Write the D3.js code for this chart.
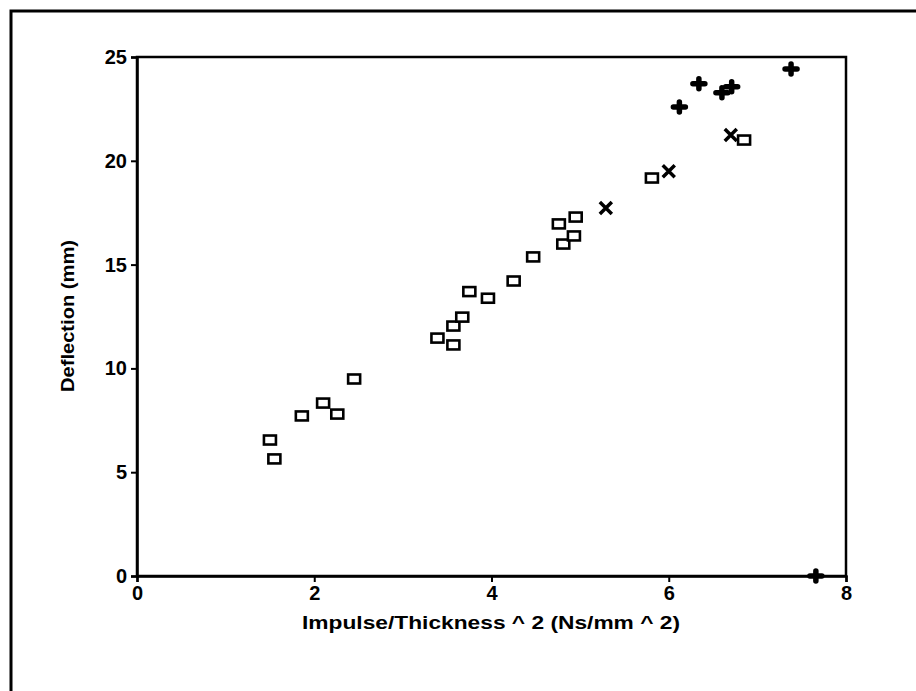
<!DOCTYPE html>
<html>
<head>
<meta charset="utf-8">
<script src="https://cdn.jsdelivr.net/npm/d3@7"></script>
<style>
  body { margin: 0; background: #fff; }
  text { font-family: "Liberation Sans", Arial, sans-serif; font-weight: bold; fill: #000; }
</style>
</head>
<body>
<div id="chart"></div>
<script>
'use strict';

// open squares
var squareX = [1.50, 1.55, 1.86, 2.10, 2.26, 2.45, 3.39, 3.57, 3.57, 3.67, 3.75, 3.96, 4.25, 4.47, 4.76, 4.81, 4.93, 4.95, 5.81, 6.85];
var squareY = [6.55, 5.64, 7.71, 8.33, 7.80, 9.49, 11.46, 11.13, 12.04, 12.47, 13.70, 13.38, 14.21, 15.37, 16.96, 15.99, 16.38, 17.29, 19.17, 21.00];
// crosses (x)
var crossX = [5.29, 6.00, 6.70];
var crossY = [17.73, 19.50, 21.24];
// filled plus
var plusX = [6.12, 6.34, 6.60, 6.71, 7.38, 7.66];
var plusY = [22.59, 23.71, 23.28, 23.57, 24.42, 0.00];

var xTicks = [0, 2, 4, 6, 8];
var yTicks = [0, 5, 10, 15, 20, 25];

var width = 916, height = 691;
var margin = {left: 137, top: 57, right: 70, bottom: 115};

var svg = d3.select('#chart').append('svg')
    .attr('width', width)
    .attr('height', height);

// outer frame (top and left edges only)
svg.append('path')
    .attr('d', 'M11,691 L11,11 L916,11')
    .attr('fill', 'none')
    .attr('stroke', '#000')
    .attr('stroke-width', 3);

var x = d3.scaleLinear().domain([0, 8]).range([margin.left, width - margin.right]);
var y = d3.scaleLinear().domain([0, 25]).range([height - margin.bottom, margin.top]);

var g = svg.append('g');

// plot box
g.append('rect')
    .attr('x', x(0)).attr('y', y(25))
    .attr('width', x(8) - x(0)).attr('height', y(0) - y(25))
    .attr('fill', 'none')
    .attr('stroke', '#000')
    .attr('stroke-width', 2.5);

var xAxis = g.append('g')
    .attr('transform', 'translate(0,' + y(0) + ')')
    .call(d3.axisBottom(x).tickValues(xTicks).tickSize(6).tickPadding(4).tickFormat(d3.format('d')));
var yAxis = g.append('g')
    .attr('transform', 'translate(' + x(0) + ',0)')
    .call(d3.axisLeft(y).tickValues(yTicks).tickSize(6).tickPadding(4).tickFormat(d3.format('d')));

[xAxis, yAxis].forEach(function(a) {
    a.attr('font-size', 20);
    a.select('.domain').attr('stroke-width', 2.5);
    a.selectAll('.tick line').attr('stroke-width', 2);
    a.selectAll('.tick text')
        .style('font-size', '20px')
        .style('font-weight', 'bold')
        .attr('fill', '#000');
});

// axis titles
svg.append('text')
    .attr('x', 491).attr('y', 629)
    .attr('text-anchor', 'middle')
    .attr('textLength', 378)
    .attr('lengthAdjust', 'spacingAndGlyphs')
    .style('font-size', '18px')
    .text('Impulse/Thickness ^ 2 (Ns/mm ^ 2)');

svg.append('text')
    .attr('transform', 'translate(74,316) rotate(-90)')
    .attr('text-anchor', 'middle')
    .attr('textLength', 152)
    .attr('lengthAdjust', 'spacingAndGlyphs')
    .style('font-size', '19px')
    .text('Deflection (mm)');

// markers
var squares = d3.zip(squareX, squareY);
var crosses = d3.zip(crossX, crossY);
var pluses = d3.zip(plusX, plusY);

g.selectAll('rect.sq')
    .data(squares)
    .enter().append('rect')
    .attr('class', 'sq')
    .attr('x', function(d) { return x(d[0]) - 6; })
    .attr('y', function(d) { return y(d[1]) - 4.5; })
    .attr('width', 12).attr('height', 9)
    .attr('fill', '#fff')
    .attr('stroke', '#000')
    .attr('stroke-width', 2.6);

g.selectAll('path.cx')
    .data(crosses)
    .enter().append('path')
    .attr('class', 'cx')
    .attr('transform', function(d) { return 'translate(' + x(d[0]) + ',' + y(d[1]) + ')'; })
    .attr('d', 'M-6,-6L6,6M-6,6L6,-6')
    .attr('fill', 'none')
    .attr('stroke', '#000')
    .attr('stroke-width', 3.5);

g.selectAll('path.pl')
    .data(pluses)
    .enter().append('path')
    .attr('class', 'pl')
    .attr('transform', function(d) { return 'translate(' + x(d[0]) + ',' + y(d[1]) + ')'; })
    .attr('d', 'M-6,0L6,0M0,-5L0,5')
    .attr('fill', 'none')
    .attr('stroke', '#000')
    .attr('stroke-width', 5.5)
    .attr('stroke-linecap', 'round');
</script>
</body>
</html>
